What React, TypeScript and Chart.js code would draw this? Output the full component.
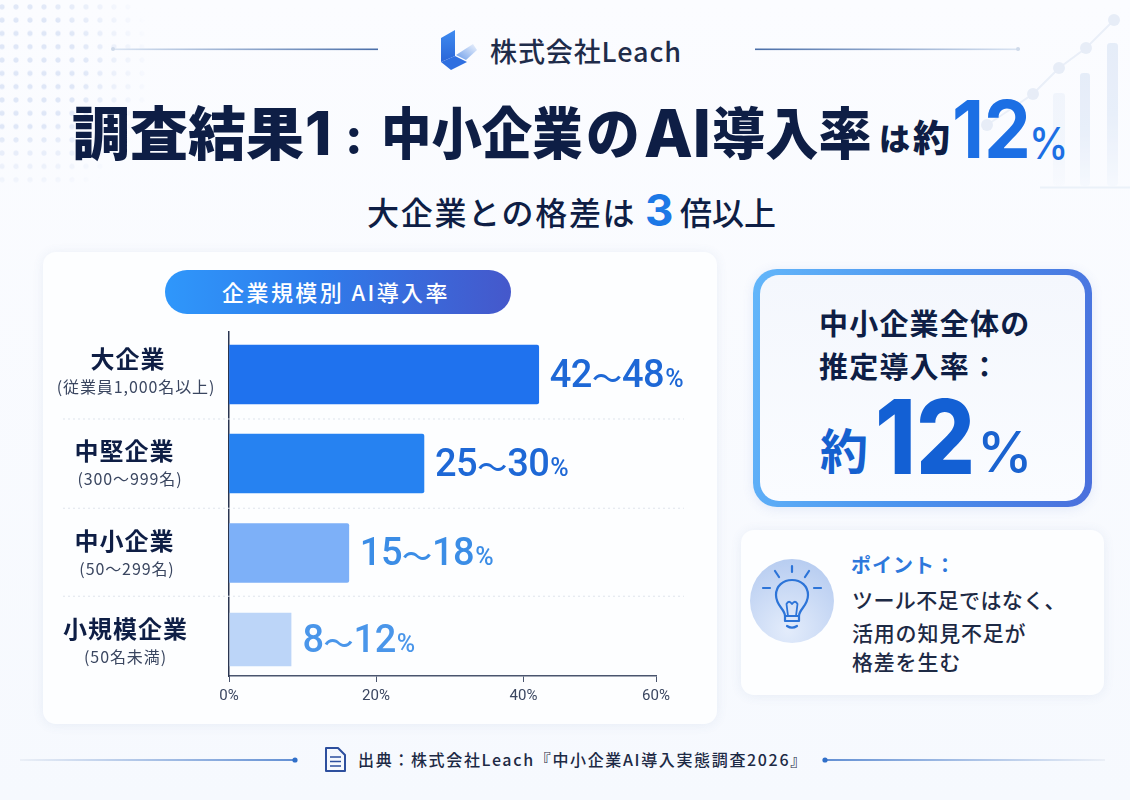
import React, { useEffect, useRef } from "react";
import { Chart, registerables, LinearScale, CategoryScale } from "chart.js";

const categories = ["大企業", "中堅企業", "中小企業", "小規模企業"];
const subLabels = ["(従業員1,000名以上)", "(300〜999名)", "(50〜299名)", "(50名未満)"];
const rangeLabels = ["42〜48", "25〜30", "15〜18", "8〜12"];
const barValues = [42.3, 26.5, 16.3, 8.5];
const barColors = ["#1f72ee", "#2682f1", "#7db0f8", "#bcd5f8"];
const labelColors = ["#1e68d6", "#1e68d6", "#3b8de6", "#4a96ea"];
const xTicks = [0, 20, 40, 60];

// The reference's axes are not evenly spaced: these are where it puts each tick and row.
const xTickDecimals = [0, 0.3443, 0.6897, 1];
const rowDecimals = [0.1235, 0.3823, 0.6424, 0.8939];
const titleOffsets = [-16, -12.5, -12, -10.5];
const subOffsets = [12.5, 15.5, 16, 17.5];
const labelCenters = [128, 124.5, 124.5, 125.5];
const subCenters = [136, 130, 127, 125.5];

const FONT = '"Noto Sans CJK JP", "Noto Sans", sans-serif';
const LATIN = 'Inter, "Noto Sans CJK JP", sans-serif';
const DIGITS = 'Roboto, "Noto Sans CJK JP", sans-serif';
const NAVY = "#0e1e45";

class PiecewiseLinearScale extends LinearScale {
  static id = "piecewiseLinear";
  static defaults = LinearScale.defaults;
  getPixelForValue(value: number) {
    const step = 60 / (xTickDecimals.length - 1);
    const i = Math.min(Math.floor(value / step), xTickDecimals.length - 2);
    const t = (value - i * step) / step;
    return this.getPixelForDecimal(xTickDecimals[i] + t * (xTickDecimals[i + 1] - xTickDecimals[i]));
  }
}

class RowCategoryScale extends CategoryScale {
  static id = "rowCategory";
  static defaults = CategoryScale.defaults;
  getPixelForValue(value: any) {
    const v = typeof value === "number" ? value : this.parse(value);
    return v === null ? NaN : this.getPixelForDecimal(rowDecimals[Math.round(v as number)]);
  }
}

Chart.register(...registerables, PiecewiseLinearScale, RowCategoryScale);

const rowDecorations = {
  id: "rowDecorations",
  beforeDatasetsDraw(chart: any) {
    const { ctx, scales } = chart;
    ctx.save();
    ctx.strokeStyle = "#dfe4ec";
    ctx.lineWidth = 1;
    ctx.setLineDash([2, 3]);
    for (let i = 0; i < categories.length - 1; i++) {
      const y = (scales.y.getPixelForValue(i) + scales.y.getPixelForValue(i + 1)) / 2;
      ctx.beginPath();
      ctx.moveTo(63, y);
      ctx.lineTo(684, y);
      ctx.stroke();
    }
    ctx.restore();
  },
  afterDatasetsDraw(chart: any) {
    const { ctx } = chart;
    const bars = chart.getDatasetMeta(0).data;
    ctx.save();
    ctx.textBaseline = "middle";
    bars.forEach((bar: any, i: number) => {
      ctx.textAlign = "center";
      ctx.fillStyle = NAVY;
      ctx.font = `700 24px ${FONT}`;
      ctx.letterSpacing = "1px";
      ctx.fillText(categories[i], labelCenters[i], bar.y + titleOffsets[i]);
      ctx.fillStyle = "#3a4660";
      ctx.font = `400 16px ${FONT}`;
      ctx.letterSpacing = "0.9px";
      ctx.fillText(subLabels[i], subCenters[i], bar.y + subOffsets[i]);

      ctx.textAlign = "left";
      ctx.fillStyle = labelColors[i];
      let x = bar.x + 11;
      const y = bar.y + 3;
      const [low, high] = rangeLabels[i].split("〜");
      ctx.font = `500 38px ${DIGITS}`;
      ctx.letterSpacing = "-0.5px";
      ctx.fillText(low, x, y);
      x += ctx.measureText(low).width;
      ctx.font = `500 30px ${FONT}`;
      ctx.letterSpacing = "0px";
      ctx.fillText("〜", x, y);
      x += ctx.measureText("〜").width;
      ctx.font = `500 38px ${DIGITS}`;
      ctx.letterSpacing = "-0.5px";
      ctx.fillText(high, x, y);
      x += ctx.measureText(high).width;
      ctx.font = `500 25px ${DIGITS}`;
      ctx.letterSpacing = "0px";
      ctx.fillText("%", x + 1, y + 3);
    });
    ctx.restore();
  },
};

function T({ x, y, size, weight = 700, color = NAVY, ls = 0, sx = 1, center = false, font = FONT, children }: any) {
  return (
    <span
      style={{
        position: "absolute",
        left: x,
        top: y,
        fontSize: size,
        fontWeight: weight,
        color,
        letterSpacing: ls,
        lineHeight: 1,
        whiteSpace: "nowrap",
        fontFamily: font,
        transformOrigin: center ? "center center" : "left center",
        transform: `${center ? "translateX(-50%) " : ""}translateY(-50%) scaleX(${sx})`,
      }}
    >
      {children}
    </span>
  );
}

function Decoration() {
  return (
    <svg width={1130} height={800} style={{ position: "absolute", left: 0, top: 0 }}>
      <defs>
        <pattern id="dots" width="14" height="13.3" patternUnits="userSpaceOnUse" x="-5" y="13.5">
          <circle cx="7" cy="6.6" r="2.6" fill="#dfe7f7" />
        </pattern>
        <radialGradient id="fade" gradientUnits="userSpaceOnUse" cx="20" cy="70" r="135">
          <stop offset="0.45" stopColor="#fff" />
          <stop offset="1" stopColor="#000" />
        </radialGradient>
        <mask id="dotMask">
          <rect width="180" height="190" fill="url(#fade)" />
        </mask>
        <linearGradient id="bar" x1="0" y1="0" x2="0" y2="1">
          <stop offset="0" stopColor="#dde7f6" />
          <stop offset="0.5" stopColor="#e1eaf8" />
          <stop offset="1" stopColor="#f4f8fe" />
        </linearGradient>
        <linearGradient id="headL" x1="0" x2="1" y1="0" y2="0">
          <stop offset="0" stopColor="#dbe5f3" />
          <stop offset="1" stopColor="#4a6ea8" />
        </linearGradient>
        <linearGradient id="headR" x1="0" x2="1" y1="0" y2="0">
          <stop offset="0" stopColor="#4a6ea8" />
          <stop offset="1" stopColor="#dbe5f3" />
        </linearGradient>
        <linearGradient id="footL" x1="0" x2="1" y1="0" y2="0">
          <stop offset="0" stopColor="#e8edf5" />
          <stop offset="1" stopColor="#3f76c9" />
        </linearGradient>
        <linearGradient id="footR" x1="0" x2="1" y1="0" y2="0">
          <stop offset="0" stopColor="#3f76c9" />
          <stop offset="1" stopColor="#e8edf5" />
        </linearGradient>
        <linearGradient id="logoA" x1="0" x2="0" y1="0" y2="1">
          <stop offset="0" stopColor="#3f8bf0" />
          <stop offset="1" stopColor="#2a66d8" />
        </linearGradient>
        <linearGradient id="logoB" x1="0" x2="1" y1="1" y2="0">
          <stop offset="0" stopColor="#6b9cea" />
          <stop offset="1" stopColor="#eef3fc" />
        </linearGradient>
      </defs>
      <rect width="180" height="190" fill="url(#dots)" mask="url(#dotMask)" />

      <g opacity="0.7">
        <rect x="1053" y="93" width="12" height="93" rx="3" fill="url(#bar)" opacity="0.45" />
        <rect x="1080" y="73" width="10" height="113" rx="3" fill="url(#bar)" />
        <rect x="1107" y="43" width="11" height="143" rx="3" fill="url(#bar)" />
        <polyline points="987,125 1033,94 1059,68 1086,48 1114,20" fill="none" stroke="#e3eaf6" strokeWidth="2" />
        {[
          [987, 125],
          [1033, 94],
          [1059, 68],
          [1086, 48],
          [1114, 20],
        ].map(([cx, cy]) => (
          <circle key={cx} cx={cx} cy={cy} r="6" fill="#dfe7f4" />
        ))}
        <rect x="1040" y="186.5" width="90" height="2" fill="#e6edf7" />
      </g>

      <rect x="113" y="48.5" width="265" height="1.6" fill="url(#headL)" />
      <circle cx="113" cy="49" r="2" fill="#cfdaea" />
      <rect x="755" y="48.5" width="265" height="1.6" fill="url(#headR)" />
      <circle cx="1018" cy="49" r="2" fill="#cfdaea" />

      <polygon points="441,38 455,30 455,56 441,62" fill="url(#logoA)" />
      <polygon points="441,62 455,56 467,62 451,70" fill="#2f6fe0" />
      <polygon points="456,55 473,44 477,50 466,60" fill="url(#logoB)" />

      <rect x="20" y="759.2" width="275" height="1.6" fill="url(#footL)" />
      <circle cx="295" cy="760" r="2.6" fill="#2f6fc9" />
      <rect x="825" y="759.2" width="280" height="1.6" fill="url(#footR)" />
      <circle cx="825" cy="760" r="2.6" fill="#2f6fc9" />
      <g fill="none" stroke="#2d4f9e" strokeWidth="2" strokeLinejoin="round">
        <path d="M326 748 H338 L345 755 V771 H326 Z" />
        <path d="M330 757 H341 M330 761.5 H341 M330 766 H341" strokeWidth="1.6" />
      </g>
    </svg>
  );
}

function Bulb() {
  return (
    <svg width={90} height={90} style={{ position: "absolute", left: 747, top: 556 }} viewBox="0 0 90 90">
      <defs>
        <radialGradient id="bulbBgLocal" cx="0.45" cy="0.85" r="0.9">
          <stop offset="0" stopColor="#e3ecfb" />
          <stop offset="1" stopColor="#b5cbf0" />
        </radialGradient>
      </defs>
      <circle cx="45" cy="45" r="42" fill="url(#bulbBgLocal)" />
      <g fill="none" stroke="#2c74d8" strokeWidth="2.2" strokeLinecap="round" strokeLinejoin="round">
        <path d="M38 60 C38 53 29 50 29 39 C29 30 36 24 45 24 C54 24 61 30 61 39 C61 50 52 53 52 60 Z" />
        <path d="M41 60 L39.5 48 C41 45 43 45 45 48 C47 45 49 45 50.5 48 L49 60" strokeWidth="1.8" />
        <path d="M38 60 V65 H52 V60" />
        <path d="M40 70 C43 72 47 72 50 70" />
        <path d="M45 10 V16 M28 15 L32 21 M62 15 L58 21 M16 32 H23 M67 32 H74" />
      </g>
    </svg>
  );
}

export default function App() {
  const ref = useRef<HTMLCanvasElement>(null);
  useEffect(() => {
    document.body.style.margin = "0";
    const chart = new Chart(ref.current!, {
      type: "bar",
      data: {
        labels: categories,
        datasets: [
          {
            data: barValues,
            backgroundColor: barColors,
            barThickness: 59,
            borderSkipped: "start",
            borderColor: "rgba(0,0,0,0)",
            borderWidth: (c: any) =>
              c.dataIndex === 3 ? { top: 3, bottom: 3, left: 0, right: 0 } : 0,
            borderRadius: 2,
          },
        ],
      },
      options: {
        indexAxis: "y",
        animation: false,
        responsive: false,
        layout: { padding: { left: 229, right: 474, top: 332, bottom: 94 } },
        plugins: { legend: { display: false }, tooltip: { enabled: false } },
        scales: {
          x: {
            type: "piecewiseLinear",
            min: xTicks[0],
            max: xTicks[xTicks.length - 1],
            afterFit: (s: any) => {
              s.height = 30;
            },
            afterBuildTicks: (s: any) => {
              s.ticks = xTicks.map((value) => ({ value }));
            },
            grid: { display: true, drawOnChartArea: false, drawTicks: true, tickLength: 6, color: "#4a556e", lineWidth: 1 },
            border: { display: true, color: "#4a556e", width: 1.5 },
            ticks: {
              padding: 5,
              maxRotation: 0,
              color: "#3a4660",
              font: { family: DIGITS, size: 15 },
              callback: (v: any) => `${v}%`,
            },
          },
          y: {
            type: "rowCategory",
            afterFit: (s: any) => {
              s.width = 0;
            },
            grid: { display: false },
            border: { display: true, color: "#2a3550", width: 1.5 },
            ticks: { display: false },
          },
        } as any,
      },
      plugins: [rowDecorations],
    } as any);
    return () => chart.destroy();
  }, []);

  const card: React.CSSProperties = {
    position: "absolute",
    background: "#fdfeff",
    borderRadius: 13,
    boxShadow: "0 1px 12px rgba(70,100,160,0.09)",
  };

  return (
    <div style={{ position: "absolute", left: 0, top: 0, width: 1130, height: 800, overflow: "hidden", background: "linear-gradient(180deg,#fbfcff 0%,#f6f9fe 100%)", fontFamily: FONT }}>
      <Decoration />

      <T x={490} y={50} size={27} weight={500} color="#1f2c4a" ls={0.9}>株式会社Leach</T>

      <T x={72} y={130} size={58} weight={900}>調査結果</T>
      <T x={305} y={133} size={60} weight={800} font={LATIN}>1</T>
      <T x={345} y={136} size={50} weight={800} font={LATIN}>:</T>
      <T x={381} y={130} size={56} weight={900} sx={0.9}>中小企業</T>
      <T x={586} y={130} size={56} weight={900} sx={0.96}>の</T>
      <T x={644} y={133} size={66} weight={800} font={LATIN} sx={0.96}>AI</T>
      <T x={712} y={130} size={56} weight={900} sx={0.95}>導入率</T>
      <T x={879} y={136} size={31} weight={800}>は</T>
      <T x={913} y={136} size={37} weight={800}>約</T>
      <T x={952} y={129} size={80} weight={700} color="#1c6fe4" sx={0.93} font={LATIN}>12</T>
      <T x={1029} y={143} size={44} weight={500} color="#1c6fe4" sx={0.9} font={LATIN}>%</T>

      <T x={367} y={211} size={32} weight={500} ls={1.7}>大企業との格差は</T>
      <T x={645} y={210} size={44} weight={700} color="#1c78e6" font={LATIN}>3</T>
      <T x={680} y={211} size={32} weight={500} ls={0}>倍以上</T>

      <div style={{ ...card, left: 43, top: 252, width: 674, height: 472 }} />
      <div style={{ position: "absolute", left: 165, top: 270, width: 346, height: 44, borderRadius: 22, background: "linear-gradient(90deg,#2f97fb 0%,#2f7bea 45%,#4558cb 100%)" }} />
      <T x={336} y={291} size={22} weight={500} color="#ffffff" ls={2.4} center>企業規模別 AI導入率</T>

      <div style={{ position: "absolute", left: 753, top: 269, width: 339, height: 238, borderRadius: 24, background: "linear-gradient(100deg,#63b6fa 0%,#4b93ee 50%,#4a6fdc 100%)", boxShadow: "0 2px 12px rgba(70,110,200,0.12)" }} />
      <div style={{ position: "absolute", left: 760, top: 275, width: 325, height: 226, borderRadius: 19, background: "linear-gradient(180deg,#f4f7fd,#fafcff)" }} />
      <T x={819} y={322} size={29} ls={1.2}>中小企業全体の</T>
      <T x={819} y={365} size={29} ls={1.2}>推定導入率：</T>
      <T x={820} y={448} size={48} color="#1560cf">約</T>
      <T x={875} y={436} size={103} weight={800} color="#1360d4" font={LATIN} sx={0.9}>12</T>
      <T x={977} y={452} size={56} weight={500} color="#1a63d0" font={LATIN}>%</T>

      <div style={{ ...card, left: 741, top: 530, width: 363, height: 165 }} />
      <Bulb />
      <T x={851} y={565} size={20} weight={700} color="#2d78dc" ls={1}>ポイント：</T>
      <T x={852} y={599} size={21} weight={500} color="#1d2a45" ls={0.4}>ツール不足ではなく、</T>
      <T x={852} y={632} size={21} weight={500} color="#1d2a45" ls={0.8}>活用の知見不足が</T>
      <T x={852} y={661} size={21} weight={500} color="#1d2a45" ls={0.8}>格差を生む</T>

      <T x={358} y={759} size={16} weight={500} color="#1d2a45" ls={1.65}>出典：株式会社Leach『中小企業AI導入実態調査2026』</T>

      <canvas ref={ref} width={1130} height={800} style={{ position: "absolute", left: 0, top: 0, pointerEvents: "none" }} />
    </div>
  );
}
